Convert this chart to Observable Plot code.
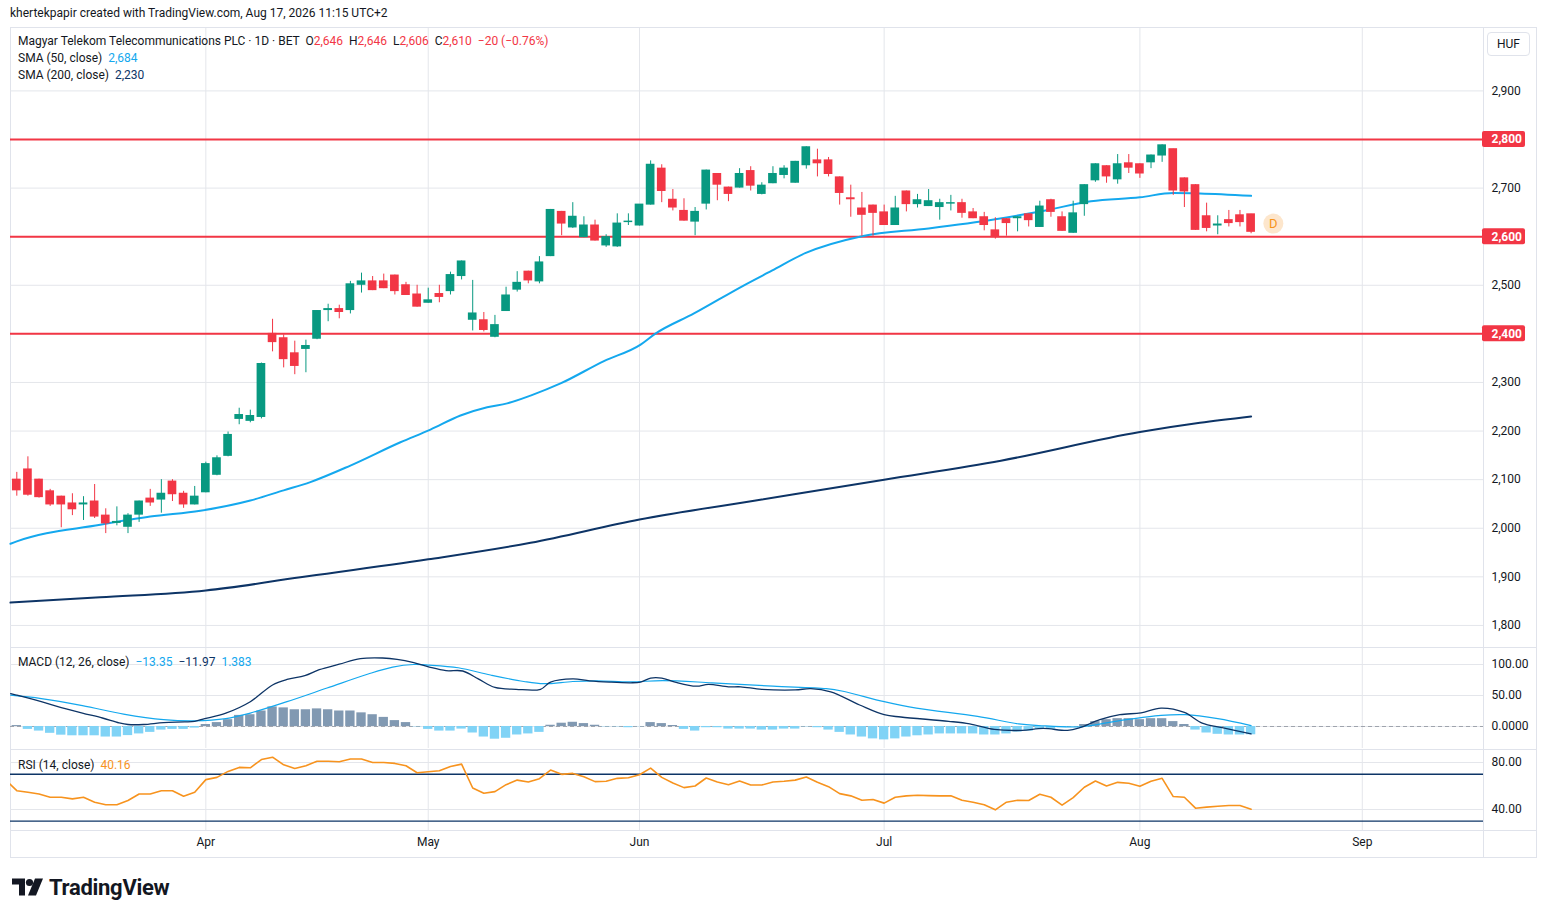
<!DOCTYPE html>
<html><head><meta charset="utf-8">
<script src="https://cdn.jsdelivr.net/npm/d3@7"></script>
<script src="https://cdn.jsdelivr.net/npm/@observablehq/plot@0.6"></script>
<style>
body{margin:0;background:#fff;font-family:Roboto,"Liberation Sans",sans-serif;color:#131722}
#root{position:relative;width:1547px;height:917px;overflow:hidden;background:#fff}
.abs{position:absolute}
.lg{position:absolute;left:18px;font-size:12px;white-space:pre;line-height:14px;color:#131722}
.sep{position:absolute;background:#e0e3eb}
</style></head><body><div id="root"></div>
<script>
// ---------- data ----------
const openP = [2100,2121,2100,2076,2065,2051,2049,2055,2026,2011,
2003,2028,2061,2059,2096,2071,2049,2074,2110,2149,
2225,2221,2229,2400,2391,2360,2369,2390,2449,2451,
2449,2501,2508,2508,2520,2500,2481,2464,2482,2488,
2519,2429,2428,2394,2447,2491,2528,2508,2560,2651,
2619,2599,2623,2582,2580,2630,2623,2666,2740,2676,
2653,2631,2668,2729,2701,2701,2735,2688,2710,2727,
2711,2747,2757,2757,2722,2679,2658,2664,2650,2624,
2693,2667,2663,2661,2668,2669,2650,2640,2613,2636,
2638,2646,2620,2675,2640,2608,2667,2716,2745,2718,
2751,2749,2753,2767,2780,2720,2706,2642,2623,2634,
2644,2646];
const highP = [2115,2147,2101,2080,2066,2071,2065,2090,2040,2044,
2030,2056,2080,2100,2100,2076,2086,2136,2149,2198,
2247,2243,2340,2430,2398,2385,2387,2448,2461,2459,
2508,2525,2518,2523,2521,2506,2500,2494,2500,2527,
2550,2510,2444,2438,2496,2528,2529,2559,2656,2652,
2670,2641,2634,2604,2647,2647,2666,2756,2748,2697,
2678,2660,2737,2730,2702,2740,2744,2711,2744,2746,
2755,2785,2780,2763,2723,2706,2691,2665,2665,2683,
2694,2687,2697,2677,2685,2677,2658,2650,2639,2637,
2641,2647,2673,2677,2651,2673,2707,2750,2746,2769,
2769,2750,2768,2789,2780,2721,2707,2669,2643,2654,
2654,2646];
const lowP = [2066,2066,2062,2045,2001,2026,2016,2020,1989,2005,
1989,2012,2045,2031,2055,2041,2048,2073,2108,2147,
2213,2217,2225,2363,2330,2316,2320,2388,2425,2431,
2441,2484,2489,2493,2480,2479,2455,2463,2464,2480,
2511,2406,2404,2392,2446,2486,2503,2503,2559,2602,
2617,2598,2591,2578,2578,2623,2622,2665,2670,2653,
2632,2602,2655,2674,2672,2700,2694,2686,2709,2719,
2710,2739,2723,2723,2665,2640,2601,2601,2623,2623,
2651,2659,2662,2634,2653,2638,2637,2612,2595,2601,
2610,2620,2619,2640,2611,2607,2642,2712,2710,2708,
2730,2720,2740,2753,2685,2660,2613,2610,2604,2620,
2620,2606];
const closeP = [2078,2069,2064,2049,2049,2039,2051,2024,2010,2013,
2026,2055,2053,2071,2070,2049,2065,2132,2144,2192,
2233,2231,2338,2383,2348,2334,2375,2447,2451,2445,
2502,2508,2490,2494,2488,2480,2456,2469,2476,2521,
2549,2442,2408,2418,2479,2505,2510,2547,2655,2627,
2641,2623,2592,2599,2627,2631,2666,2748,2694,2660,
2633,2651,2736,2707,2688,2729,2705,2705,2729,2740,
2754,2784,2751,2729,2690,2677,2645,2649,2624,2658,
2667,2675,2673,2669,2669,2649,2638,2624,2599,2628,
2640,2634,2662,2651,2612,2648,2706,2749,2724,2749,
2742,2730,2767,2788,2695,2693,2614,2618,2625,2628,
2630,2610];

const monthTickIdx = [17,37,56,78,101,121];
const monthLabels = ["Apr","May","Jun","Jul","Aug","Sep"];
const priceTicks = [1800,1900,2000,2100,2200,2300,2400,2500,2600,2700,2800,2900];
const levelLines = [2800,2600,2400];

const sma50Idx = [-0.57,0,7.5,12,16.5,21,24,26.4,30,34.5,37.2,39.9,42.3,44.1,46.2,48.9,52.8,56.1,57.4,60.9,65.4,67.9,70.9,76,82,88,92.5,96.6,101,104,106.4,111];
const sma50Val = [1968,1973,2007,2024,2036,2057,2078,2095,2129,2177,2203,2232,2249,2257,2273,2298,2344,2378,2400,2442,2500,2530,2566,2601,2617,2636,2654,2673,2681,2690,2689,2684];
const sma200Idx = [-0.57,7.5,17,25.5,37,46.2,56,67,78,88.5,101,106.4,111];
const sma200Val = [1847,1858,1872,1899,1936,1970,2018,2059,2100,2139,2198,2217,2230];

const macdIdx = [-0.55,0,2.2,4,5.9,7.7,9.2,10,11.4,13.2,15.1,16,16.9,18.8,21,23,24.3,25.9,27.2,29,30.9,32.9,34.2,35.7,37.1,38.6,40.1,41.5,43,44.9,47.1,48,50,51.5,53.3,55.2,56.1,57,58,59.2,61.1,62.2,64,65.1,67,70,71.4,73.2,75.8,78,79.5,83.8,85.7,87.9,90.4,92.3,94.5,95.6,97.4,99.2,101.1,102.9,105,106.6,108.4,111];
const macdVal = [53,50.5,40,30.5,21.6,13.7,5.8,3.2,3.2,6.3,7.4,8.4,12.6,21.6,40,67,75.8,82,91.6,100.5,109.5,110.5,108.4,103,95.8,90,89.5,76.8,63,60,60,71.6,76.8,73.7,71.6,70.5,71.6,78,78,71.6,65,68,64,64,60,59,61,55.8,34.7,19,15.3,8.4,4.2,-4.7,-6.3,-3.2,-6.3,-2,11,19,22,29.5,22.6,5.3,-2,-11.97];
const signalIdx = [-0.55,2.2,5.9,9.6,13.2,16,18.8,21,24.3,27.9,31.6,33.8,35.7,37.1,39.7,42.6,45.6,47.4,50,52.2,55.2,58.1,62.5,68,72.8,74.3,78,80.9,86.4,90.1,91.9,95.6,99.2,102.9,105.1,108,111];
const signalVal = [50.5,45,33.7,20,11,9,12.6,21.6,40,62,84.7,95.8,100,99,94.7,83,72.6,69,72.6,73.7,72,74,70.5,65,61,56.8,40,29.5,16.3,4.2,1.6,-0.5,9.5,17.9,19,12.6,1.383];
const histVal = [1.5,-4.7,-7.4,-11,-14,-15,-15,-15,-17,-17,
-14.7,-12,-9.5,-5.8,-4.7,-4.7,-2.6,3.2,6.3,11,
17.9,19,25,31.6,30,27,27,28.4,27,25,
25,22,19,14.7,9.5,6.3,-0.5,-4.7,-7.4,-7.4,
-4.2,-10.5,-17,-20.5,-19,-13.7,-12,-9.5,2,5.3,
6.8,4.7,2,-0.5,-0.5,-2,-0.3,6.3,4.7,1.6,
-4.7,-7.4,-2,-2,-4.2,-4.2,-4.2,-5.8,-5.8,-4.2,
-4.2,-0.5,-2,-5.8,-9.5,-13.7,-17,-20,-21.6,-20,
-17,-15,-13.7,-12,-12,-12,-12,-13.7,-13.7,-12,
-9,-7.4,-4.7,-4.2,-2,-1,3.2,7.9,11,12.6,
12.6,11,12.6,12.6,7.9,3.2,-5.8,-10.5,-12.6,-13.7,
-13.7,-13.35];
// RSI values, first one belongs to the bar just before the visible range
const rsiVal = [65,
56,54.6,53.2,50.4,50.4,49,50.4,46.2,44,44,
47.6,53.2,53.2,56,56,51.3,54.6,65.4,67.3,72.4,
75.8,75.5,82.5,84.5,78,74.9,77.2,81.1,81.1,80.6,
83,83,80,80,79.2,77.2,71.3,72.1,73,76.6,
78.6,58.3,53.8,55.2,61.1,65,63.4,66.2,73.5,69.9,
70.7,67.9,63.7,64,66.5,67,69.6,75.2,67.3,62.5,
58.6,60,66.8,63.4,61.1,64.2,60.8,60.8,63.4,64,
65,67.6,63.1,59.4,53.5,51.6,47.9,48.5,45.4,50.4,
51.6,52.1,51.8,51.6,51.6,47.9,46.2,44,39.7,46.2,
47.9,47.6,53,50.4,43.7,50.1,58.9,64.2,60,63.1,
62.3,59.7,64,66.5,51,50.4,41.1,42,42.8,43.4,
43.4,40.16];
const macdTicks = [100,50,0];
const macdTickLabels = ["100.00","50.00","0.0000"];
const rsiTicks = [80,40];
const rsiTickLabels = ["80.00","40.00"];
const rsiBands = [70,30];
const dividendMarks = [{i:113, price:2627, label:"D"}];

// ---------- build ----------
const GREEN="#089981", RED="#f23645", GRID="#e4e6eb", NAVY="#0d3466", LBLUE="#14a8ee";
const W=1527, MR=54, xDom=[-0.5665,131.9];
const root=document.getElementById("root");
function place(el,left,top){const d=document.createElement("div");d.className="abs";d.style.left=left+"px";d.style.top=top+"px";d.appendChild(el);root.appendChild(d);return d;}
function html(s){const t=document.createElement("template");t.innerHTML=s.trim();return t.content.firstChild;}
function common(h,mb){return {width:W,height:h,marginLeft:0,marginRight:MR,marginTop:0,marginBottom:mb,
  style:{fontFamily:"Roboto, 'Liberation Sans', sans-serif",fontSize:"12px",background:"transparent",color:"#131722",overflow:"visible"}};}

const candles = openP.map((o,i)=>({i,o,h:highP[i],l:lowP[i],c:closeP[i]}));
const up = candles.filter(d=>d.c>=d.o), dn = candles.filter(d=>d.c<d.o);
const sma50 = sma50Idx.map((i,k)=>({i,v:sma50Val[k]}));
const sma200 = sma200Idx.map((i,k)=>({i,v:sma200Val[k]}));
const fmt = d3.format(",");

// frame and separators
root.appendChild(html(`<div class="abs" style="left:10px;top:27px;width:1527px;height:831px;border:1px solid #e0e3eb;box-sizing:border-box"></div>`));
root.appendChild(html(`<div class="sep" style="left:10px;top:647px;width:1527px;height:1px"></div>`));
root.appendChild(html(`<div class="sep" style="left:10px;top:749px;width:1527px;height:1px"></div>`));
root.appendChild(html(`<div class="sep" style="left:10px;top:830px;width:1527px;height:1px"></div>`));
root.appendChild(html(`<div class="sep" style="left:1483px;top:27px;width:1px;height:831px"></div>`));

const main = Plot.plot({...common(619,0),
  x:{domain:xDom,axis:null}, y:{domain:[1754.6,3028.4],axis:null},
  marks:[
    Plot.gridX(monthTickIdx,{stroke:GRID,strokeOpacity:1}),
    Plot.gridY(priceTicks,{stroke:GRID,strokeOpacity:1}),
    Plot.axisY(priceTicks,{anchor:"right",tickSize:0,tickPadding:8,tickFormat:fmt,fill:"#131722",fontSize:12,label:null}),
    Plot.ruleY(levelLines,{stroke:RED,strokeWidth:2}),
    Plot.line(sma200,{x:"i",y:"v",stroke:NAVY,strokeWidth:2,curve:"monotone-x"}),
    Plot.line(sma50,{x:"i",y:"v",stroke:LBLUE,strokeWidth:2,curve:"monotone-x"}),
    Plot.ruleX(up,{x:"i",y1:"l",y2:"h",stroke:GREEN,strokeWidth:1}),
    Plot.ruleX(dn,{x:"i",y1:"l",y2:"h",stroke:RED,strokeWidth:1}),
    Plot.rect(up,{x1:d=>d.i-0.39,x2:d=>d.i+0.39,y1:"o",y2:"c",fill:GREEN,insetTop:-0.5,insetBottom:-0.5}),
    Plot.rect(dn,{x1:d=>d.i-0.39,x2:d=>d.i+0.39,y1:"o",y2:"c",fill:RED,insetTop:-0.5,insetBottom:-0.5}),
    Plot.rect(levelLines,{x1:xDom[1],x2:xDom[1],y1:d=>d,y2:d=>d,insetLeft:-1,insetRight:-42,insetTop:-8,insetBottom:-8,fill:RED,rx:2}),
    Plot.text(levelLines,{x:xDom[1],y:d=>d,text:d=>fmt(d),dx:8,textAnchor:"start",fill:"white",fontWeight:"bold",fontSize:12}),
    Plot.dot(dividendMarks,{x:"i",y:"price",r:10,fill:"#fde6cc",stroke:"none"}),
    Plot.text(dividendMarks,{x:"i",y:"price",text:"label",fill:"#f7931a",fontSize:13})
  ]});
place(main,10,28);

const hist = histVal.map((v,i)=>({i,v}));
const macdLine = macdIdx.map((i,k)=>({i,v:macdVal[k]}));
const sigLine = signalIdx.map((i,k)=>({i,v:signalVal[k]}));
const macd = Plot.plot({...common(100,0),
  x:{domain:xDom,axis:null}, y:{domain:[-35.5,125.8],axis:null},
  marks:[
    Plot.gridX(monthTickIdx,{stroke:GRID,strokeOpacity:1}),
    Plot.gridY(macdTicks,{stroke:GRID,strokeOpacity:1}),
    Plot.axisY(macdTicks,{anchor:"right",tickSize:0,tickPadding:8,tickFormat:d=>macdTickLabels[macdTicks.indexOf(d)],fill:"#131722",fontSize:12,label:null}),
    Plot.ruleY([0],{stroke:"#9ea3ad",strokeDasharray:"4,3"}),
    Plot.rect(hist.filter(d=>d.v>=0),{x1:d=>d.i-0.42,x2:d=>d.i+0.42,y1:0,y2:"v",fill:"#8199b2"}),
    Plot.rect(hist.filter(d=>d.v<0),{x1:d=>d.i-0.42,x2:d=>d.i+0.42,y1:0,y2:"v",fill:"#80d3f6"}),
    Plot.line(sigLine,{x:"i",y:"v",stroke:LBLUE,strokeWidth:1.2,curve:"catmull-rom",clip:true}),
    Plot.line(macdLine,{x:"i",y:"v",stroke:NAVY,strokeWidth:1.3,curve:"catmull-rom",clip:true})
  ]});
place(macd,10,648);

const rsi = rsiVal.map((v,k)=>({i:k-1,v}));
const rsiPlot = Plot.plot({...common(107,27),
  x:{domain:xDom}, y:{domain:[22.1,90.2],axis:null},
  marks:[
    Plot.gridX(monthTickIdx,{stroke:GRID,strokeOpacity:1}),
    Plot.gridY(rsiTicks,{stroke:GRID,strokeOpacity:1}),
    Plot.axisY(rsiTicks,{anchor:"right",tickSize:0,tickPadding:8,tickFormat:d=>rsiTickLabels[rsiTicks.indexOf(d)],fill:"#131722",fontSize:12,label:null}),
    Plot.ruleY(rsiBands,{stroke:NAVY,strokeWidth:1.3}),
    Plot.line(rsi,{x:"i",y:"v",stroke:"#f7931e",strokeWidth:1.6,clip:true}),
    Plot.axisX(monthTickIdx,{tickSize:0,tickPadding:7,tickFormat:d=>monthLabels[monthTickIdx.indexOf(d)],fill:"#131722",fontSize:12,label:null})
  ]});
place(rsiPlot,10,750);

// legends
const n = closeP.length-1;
const chg = closeP[n]-closeP[n-1];
const pct = chg/closeP[n-1]*100;
const m = s => String(s).replace("-","−");
const r = s => `<span style="color:${RED}">${s}</span>`;
root.appendChild(html(`<div class="lg" style="top:34px">Magyar Telekom Telecommunications PLC · 1D · BET  O${r(fmt(openP[n]))}  H${r(fmt(highP[n]))}  L${r(fmt(lowP[n]))}  C${r(fmt(closeP[n]))}  ${r(m(chg)+" ("+m(pct.toFixed(2))+"%)")}</div>`));
root.appendChild(html(`<div class="lg" style="top:51px">SMA (50, close)  <span style="color:${LBLUE}">${fmt(sma50Val[sma50Val.length-1])}</span></div>`));
root.appendChild(html(`<div class="lg" style="top:68px">SMA (200, close)  <span style="color:${NAVY}">${fmt(sma200Val[sma200Val.length-1])}</span></div>`));
const f4 = d3.format(".4r");
root.appendChild(html(`<div class="lg" style="top:655px">MACD (12, 26, close)  <span style="color:${LBLUE}">${f4(histVal[n])}</span>  <span style="color:${NAVY}">${f4(macdVal[macdVal.length-1])}</span>  <span style="color:${LBLUE}">${f4(signalVal[signalVal.length-1])}</span></div>`));
root.appendChild(html(`<div class="lg" style="top:758px">RSI (14, close)  <span style="color:#f7931e">${f4(rsiVal[rsiVal.length-1])}</span></div>`));

// header, currency box, logo
root.appendChild(html(`<div class="abs" style="left:10px;top:6px;font-size:12px;color:#131722;white-space:pre">khertekpapir created with TradingView.com, Aug 17, 2026 11:15 UTC+2</div>`));
root.appendChild(html(`<div class="abs" style="left:1487px;top:32px;width:43px;height:24px;border:1px solid #e0e3eb;border-radius:4px;box-sizing:border-box;font-size:12px;line-height:22px;text-align:center;color:#131722;background:#fff">HUF</div>`));
root.appendChild(html(`<div class="abs" style="left:12px;top:875px;display:flex;align-items:center;gap:6px">
<svg width="31" height="19" viewBox="0 0 31 18"><path d="M0 0H13V17H7V6H0Z" fill="#131722"/><circle cx="17.5" cy="4" r="3.6" fill="#131722"/><path d="M23 0H31L24 17H16Z" fill="#131722"/></svg>
<span style="font-size:22px;font-weight:bold;color:#131722;letter-spacing:-0.3px">TradingView</span></div>`));
</script></body></html>
